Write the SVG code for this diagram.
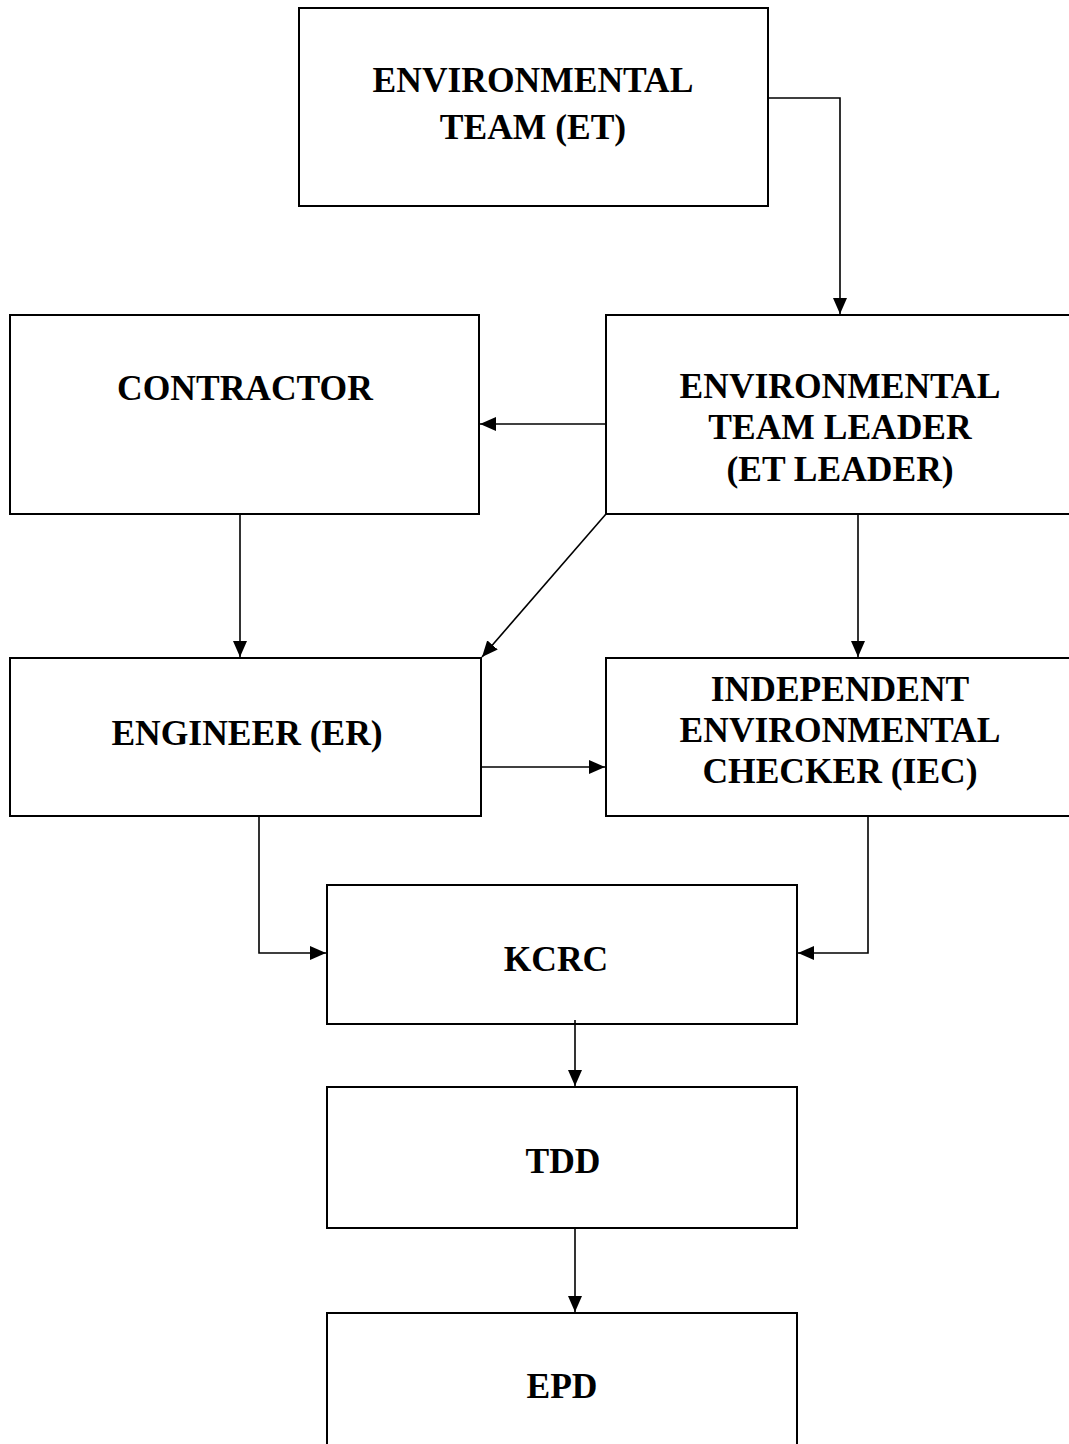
<svg xmlns="http://www.w3.org/2000/svg" width="1069" height="1444" viewBox="0 0 1069 1444">
<defs>
<style>
.box{fill:#fff;stroke:#000;stroke-width:2}
.lbl{font-family:"Liberation Serif","Times New Roman",serif;font-weight:bold;font-size:35.5px;text-anchor:middle;fill:#000}
.con{fill:none;stroke:#000;stroke-width:1.6}
</style>
<marker id="ah" viewBox="0 0 16 14" refX="16" refY="7" markerWidth="16" markerHeight="14" markerUnits="userSpaceOnUse" orient="auto">
<path d="M0,0 L16,7 L0,14 Z" fill="#000"/>
</marker>
</defs>
<rect width="1069" height="1444" fill="#fff"/>
<g id="et"><rect class="box" x="299" y="8" width="469" height="198"/><text class="lbl" x="533" y="92">ENVIRONMENTAL</text><text class="lbl" x="533" y="139">TEAM (ET)</text></g>
<g id="contractor"><rect class="box" x="10" y="315" width="469" height="199"/><text class="lbl" x="245" y="400">CONTRACTOR</text></g>
<g id="etl"><rect class="box" x="606" y="315" width="470" height="199"/><text class="lbl" x="840" y="398">ENVIRONMENTAL</text><text class="lbl" x="840" y="439">TEAM LEADER</text><text class="lbl" x="840" y="481">(ET LEADER)</text></g>
<g id="er"><rect class="box" x="10" y="658" width="471" height="158"/><text class="lbl" x="247" y="745">ENGINEER (ER)</text></g>
<g id="iec"><rect class="box" x="606" y="658" width="470" height="158"/><text class="lbl" x="840" y="701">INDEPENDENT</text><text class="lbl" x="840" y="742">ENVIRONMENTAL</text><text class="lbl" x="840" y="783">CHECKER (IEC)</text></g>
<g id="kcrc"><rect class="box" x="327" y="885" width="470" height="139"/><text class="lbl" x="556" y="971">KCRC</text></g>
<g id="tdd"><rect class="box" x="327" y="1087" width="470" height="141"/><text class="lbl" x="563" y="1173">TDD</text></g>
<g id="epd"><rect class="box" x="327" y="1313" width="470" height="140"/><text class="lbl" x="562" y="1398">EPD</text></g>
<g id="connectors">
<path class="con" d="M768,98 H840 V314" marker-end="url(#ah)"/>
<path class="con" d="M606,424 H480" marker-end="url(#ah)"/>
<path class="con" d="M240,514 V657" marker-end="url(#ah)"/>
<path class="con" d="M606,514 L482,657" marker-end="url(#ah)"/>
<path class="con" d="M858,514 V657" marker-end="url(#ah)"/>
<path class="con" d="M481,767 H605" marker-end="url(#ah)"/>
<path class="con" d="M259,816 V953 H326" marker-end="url(#ah)"/>
<path class="con" d="M868,816 V953 H798" marker-end="url(#ah)"/>
<path class="con" d="M575,1020 V1086" marker-end="url(#ah)"/>
<path class="con" d="M575,1228 V1312" marker-end="url(#ah)"/>
</g>
</svg>
